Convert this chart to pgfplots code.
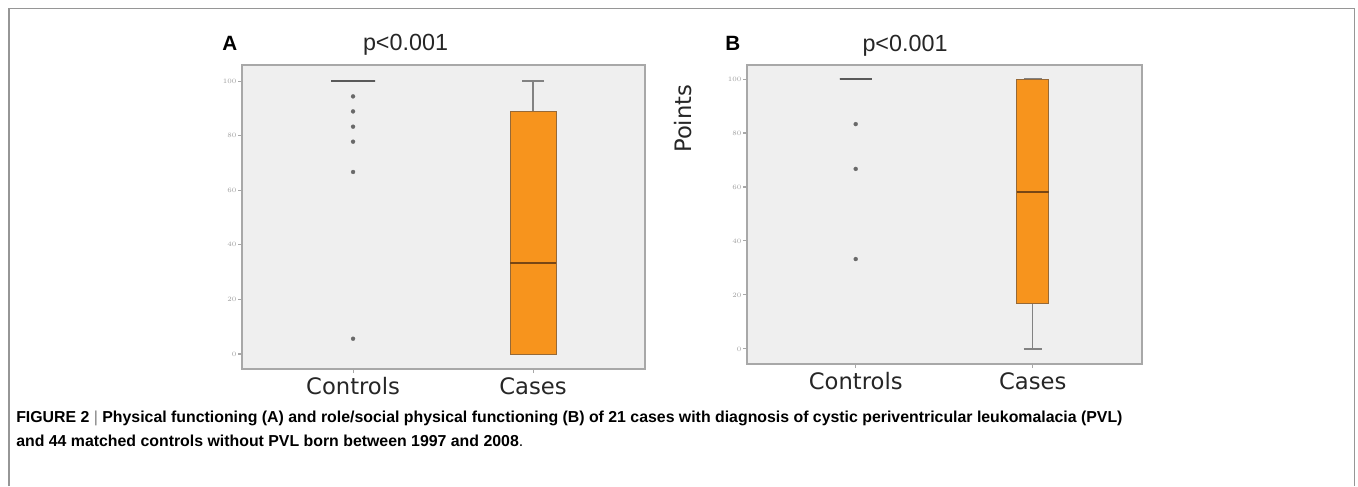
\documentclass[border=0pt]{standalone}
\usepackage{pgfplots}
\pgfplotsset{compat=1.18}
\usepgfplotslibrary{statistics}
\usepackage{fontspec}
\setmainfont{Liberation Sans}
\newfontfamily\dejavu{DejaVu Sans}

\definecolor{panelbg}{RGB}{239,239,239}
\definecolor{boxorange}{RGB}{247,148,29}
\definecolor{boxedge}{RGB}{150,105,55}
\definecolor{medianbrown}{RGB}{120,70,20}
\definecolor{axisgray}{RGB}{168,168,168}
\definecolor{whiskgray}{RGB}{130,130,130}
\definecolor{dotgray}{RGB}{105,105,105}
\definecolor{framegray}{RGB}{150,150,150}
\definecolor{ctrlgray}{RGB}{90,90,90}

\pgfplotsset{
  panel/.style={
    scale only axis,
    axis background/.style={fill=panelbg},
    axis line style={axisgray, line width=1.4pt},
    ytick={0,20,...,100},
    xtick={1,2},
    xticklabels={Controls,Cases},
    tick align=outside,
    xtick pos=bottom,
    ytick pos=left,
    major tick length=3pt,
    tick style={axisgray, line width=0.8pt},
    yticklabel style={font=\fontsize{5.5}{6}\selectfont, text=gray!75, inner xsep=1pt},
    xticklabel style={font=\dejavu\fontsize{17}{18}\selectfont, text=black!85},
    boxplot/draw direction=y,
  },
  ctrl/.style={
    draw=ctrlgray, line width=1.8pt,
    mark=*, mark size=1.5pt,
    mark options={draw=dotgray, fill=dotgray, line width=0.2pt},
    boxplot/every median/.style={ctrlgray, line width=1.8pt},
    boxplot/every whisker/.style={ctrlgray, line width=1.8pt},
  },
  cases/.style={
    fill=boxorange, draw=boxedge, line width=0.7pt,
    boxplot/every median/.style={medianbrown, line width=1.6pt},
    boxplot/every whisker/.style={whiskgray, line width=1pt},
  },
}

\begin{document}
\begin{tikzpicture}
\begin{scope}[x=0.75pt, y=-0.75pt]
  \path[use as bounding box] (0,0) rectangle (1358,486);
  \draw[framegray, line width=1.1pt] (9,486) -- (9,8.5) -- (1354.5,8.5) -- (1354.5,486);
  \node[anchor=base west, font=\bfseries\fontsize{15.5}{16}\selectfont, inner sep=0pt] at (222,50) {A};
  \node[anchor=base, font=\fontsize{17.5}{18}\selectfont, text=black!85, inner sep=0pt] at (405.5,50) {p<0.001};
  \node[anchor=base west, font=\bfseries\fontsize{15.5}{16}\selectfont, inner sep=0pt] at (725,50) {B};
  \node[anchor=base, font=\fontsize{17.5}{18}\selectfont, text=black!85, inner sep=0pt] at (905,51) {p<0.001};
  \node[anchor=base west, inner sep=0pt, font=\fontsize{11.9}{14}\selectfont] at (16,422)
    {\textbf{FIGURE 2} {\color{gray}|} \textbf{Physical functioning (A) and role/social physical functioning (B) of 21 cases with diagnosis of cystic periventricular leukomalacia (PVL)}};
  \node[anchor=base west, inner sep=0pt, font=\fontsize{11.9}{14}\selectfont] at (16,446)
    {\textbf{and 44 matched controls without PVL born between 1997 and 2008}.};
\end{scope}

% Panel A: physical functioning
\begin{axis}[panel,
  at={(181.5pt,-276.75pt)}, anchor=south west,
  width=302.25pt, height=228pt,
  xmin=0.383, xmax=2.622,
  ymin=-5.5, ymax=105.9,
]
\addplot[ctrl, boxplot prepared={median=100, upper quartile=100, lower quartile=100,
  upper whisker=100, lower whisker=100, draw position=1,
  box extend=0.244, whisker extend=0.244}]
  table[row sep=\\, y index=0] {94.4\\ 88.9\\ 83.3\\ 77.8\\ 66.7\\ 5.6\\};
\addplot[cases, boxplot prepared={median=33.3, upper quartile=88.9, lower quartile=0,
  upper whisker=100, lower whisker=0, draw position=2,
  box extend=0.256, whisker extend=0.122}]
  coordinates {};
\end{axis}

% Panel B: role/social physical functioning
\begin{axis}[panel,
  at={(560.25pt,-273pt)}, anchor=south west,
  width=296.25pt, height=224.25pt,
  xmin=0.386, xmax=2.617,
  ymin=-5.6, ymax=105.2,
  ylabel={Points},
  every axis y label/.style={at={(axis description cs:-0.162,0.82)}, rotate=90, anchor=center,
    font=\dejavu\fontsize{17}{18}\selectfont, text=black!85},
]
\addplot[ctrl, boxplot prepared={median=100, upper quartile=100, lower quartile=100,
  upper whisker=100, lower whisker=100, draw position=1,
  box extend=0.18, whisker extend=0.18}]
  table[row sep=\\, y index=0] {83.3\\ 66.7\\ 33.3\\};
\addplot[cases, boxplot prepared={median=58.3, upper quartile=100, lower quartile=16.7,
  upper whisker=100, lower whisker=0, draw position=2,
  box extend=0.18, whisker extend=0.10}]
  coordinates {};
\end{axis}
\end{tikzpicture}
\end{document}
